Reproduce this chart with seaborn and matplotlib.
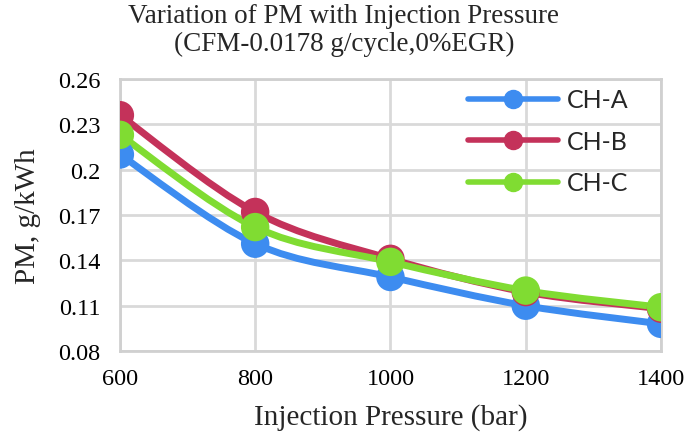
import numpy as np
import pandas as pd
import matplotlib
matplotlib.use("Agg")
import matplotlib.pyplot as plt
import seaborn as sns
from matplotlib.path import Path
from matplotlib.patches import PathPatch
from matplotlib.lines import Line2D

pressure = [600, 800, 1000, 1200, 1400]
ch_a = [0.210, 0.151, 0.129, 0.110, 0.098]
ch_b = [0.236, 0.172, 0.141, 0.119, 0.108]
ch_c = [0.223, 0.162, 0.139, 0.120, 0.109]
series_names = ["CH-A", "CH-B", "CH-C"]
colors = {"CH-A": "#3d8cf0", "CH-B": "#c4325a", "CH-C": "#80dc32"}
y_ticks = [0.08, 0.11, 0.14, 0.17, 0.2, 0.23, 0.26]
y_tick_labels = ["0.08", "0.11", "0.14", "0.17", "0.2", "0.23", "0.26"]
x_ticks = [600, 800, 1000, 1200, 1400]

df = pd.DataFrame({"Pressure": pressure * 3,
                   "PM": ch_a + ch_b + ch_c,
                   "Series": sum([[n] * len(pressure) for n in series_names], [])})

sns.set_theme(style="white")
plt.rcParams["font.family"] = ["Liberation Serif", "DejaVu Serif"]

fig = plt.figure(figsize=(6.85, 4.39), dpi=100)
ax = fig.add_axes([0.175, 0.198, 0.79, 0.62])

def smooth_path(xs, ys):
    pts = np.column_stack([xs, ys]).astype(float)
    n = len(pts)
    verts = [pts[0]]
    codes = [Path.MOVETO]
    for i in range(n - 1):
        p0 = pts[i - 1] if i > 0 else pts[i]
        p1 = pts[i]
        p2 = pts[i + 1]
        p3 = pts[i + 2] if i + 2 < n else pts[i + 1]
        c1 = p1 + (p2 - p0) / 6.0
        c2 = p2 - (p3 - p1) / 6.0
        verts += [c1, c2, p2]
        codes += [Path.CURVE4] * 3
    return Path(verts, codes)

for name in series_names:
    sub = df[df["Series"] == name]
    patch = PathPatch(smooth_path(sub["Pressure"].values, sub["PM"].values),
                      facecolor="none", edgecolor=colors[name], lw=5,
                      capstyle="round", joinstyle="round", zorder=3)
    ax.add_patch(patch)

sns.scatterplot(data=df, x="Pressure", y="PM", hue="Series", palette=colors,
                s=420, linewidth=0, ax=ax, legend=False, zorder=4)

ax.set_xlim(600, 1400)
ax.set_ylim(0.08, 0.26)
ax.set_xticks(x_ticks)
ax.set_xticklabels([str(v) for v in x_ticks])
ax.set_yticks(y_ticks)
ax.set_yticklabels(y_tick_labels)
ax.tick_params(axis="both", length=0, labelsize=17.5, colors="black")
ax.tick_params(axis="y", pad=14)
ax.tick_params(axis="x", pad=12)
ax.grid(True, color="#d9d9d9", lw=2)
ax.set_axisbelow(True)
for sp in ax.spines.values():
    sp.set_color("#d0d0d0")
    sp.set_linewidth(2)

ax.set_xlabel("Injection Pressure (bar)", fontsize=21, labelpad=10)
ax.set_ylabel("PM, g/kWh", fontsize=21, labelpad=12)

fig.text(0.502, 0.992, "Variation of PM with Injection Pressure\n(CFM-0.0178 g/cycle,0%EGR)",
         ha="center", va="top", fontsize=19.5, linespacing=1.2)

handles = [Line2D([0], [0], color=colors[n], lw=4, marker="o", markersize=13,
                  solid_capstyle="round") for n in series_names]
leg = ax.legend(handles, series_names, loc="upper left", bbox_to_anchor=(0.643, 0.965),
                frameon=False, handlelength=3.6, handletextpad=0.35, labelspacing=0.74,
                borderpad=0, borderaxespad=0,
                prop={"family": ["Lato", "DejaVu Sans"], "size": 18})

fig.savefig("out.png", dpi=100)
